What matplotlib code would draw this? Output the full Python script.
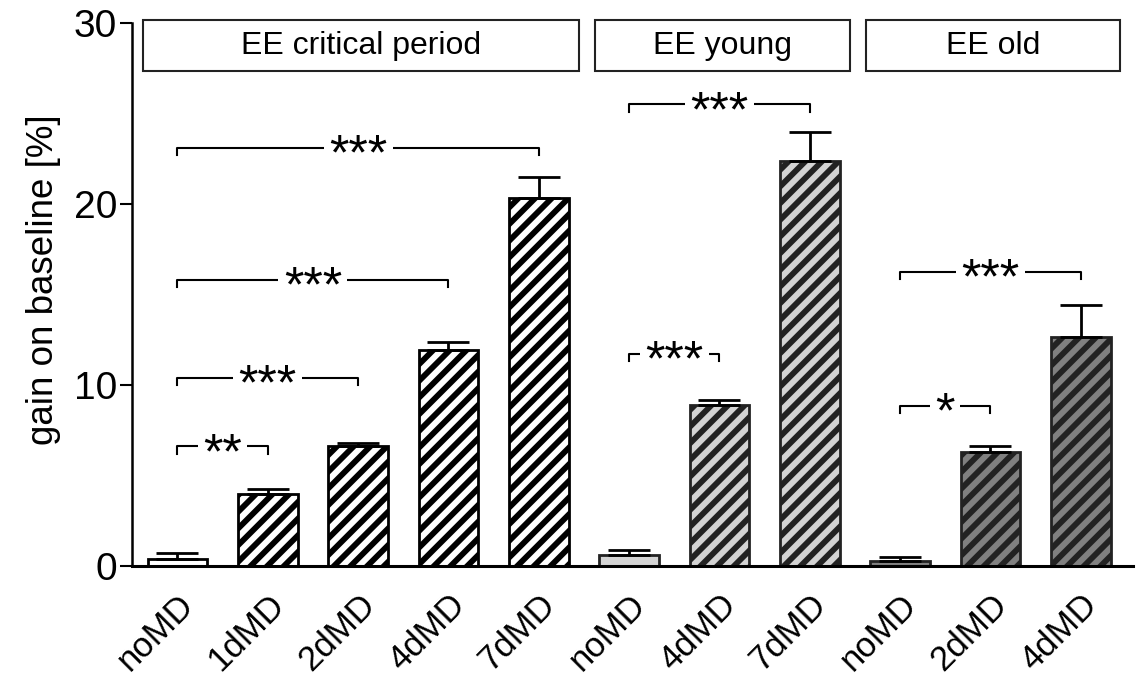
import matplotlib
matplotlib.use("Agg")
import matplotlib.pyplot as plt
from matplotlib.patches import Rectangle

plt.rcParams['font.family'] = ['Liberation Sans', 'DejaVu Sans']
plt.rcParams['hatch.linewidth'] = 4.2

labels = ["noMD", "1dMD", "2dMD", "4dMD", "7dMD", "noMD", "4dMD", "7dMD", "noMD", "2dMD", "4dMD"]
values = [0.4, 3.95, 6.6, 11.9, 20.3, 0.6, 8.9, 22.4, 0.28, 6.3, 12.65]
errors = [0.3, 0.3, 0.2, 0.45, 1.2, 0.25, 0.25, 1.6, 0.22, 0.3, 1.75]
colors = ["white"] * 5 + ["#d3d3d3"] * 3 + ["#808080"] * 3
hatches = [""] + ["//"] * 4 + [""] + ["//"] * 2 + [""] + ["//"] * 2
edge_colors = ["black"] * 5 + ["#222222"] * 6

groups = ["EE critical period", "EE young", "EE old"]
group_spans = [(0, 4), (5, 7), (8, 10)]

# significance brackets: (i, j, y, label)
sig = [(0, 1, 6.6, "**"), (0, 2, 10.4, "***"), (0, 3, 15.8, "***"), (0, 4, 23.1, "***"),
       (5, 6, 11.7, "***"), (5, 7, 25.5, "***"),
       (8, 9, 8.85, "*"), (8, 10, 16.25, "***")]

fig = plt.figure(figsize=(11.4, 6.76), dpi=100)
ax = fig.add_axes([0.116, 0.163, 0.878, 0.803])

x = list(range(len(values)))
for xi, v, e, c, h, ec in zip(x, values, errors, colors, hatches, edge_colors):
    ax.bar(xi, v, width=0.66, color=c, edgecolor=ec, hatch=h, linewidth=2, zorder=2)
    ax.errorbar(xi, v, yerr=[[0], [e]], fmt='none', ecolor='black', elinewidth=2,
                capsize=15, capthick=2, zorder=3)

ax.set_xlim(-0.5, 10.58)
ax.set_ylim(0, 30)
ax.set_yticks([0, 10, 20, 30])
ax.tick_params(axis='y', labelsize=28, length=9, width=1.5, direction='out', pad=2)
ax.set_xticks(x)
ax.set_xticklabels(labels, rotation=45, ha='right', rotation_mode='anchor', fontsize=25)
ax.tick_params(axis='x', length=0, pad=16)
ax.spines['top'].set_visible(False)
ax.spines['right'].set_visible(False)
ax.spines['left'].set_linewidth(1.8)
ax.spines['bottom'].set_linewidth(2.2)
ax.set_ylabel("gain on baseline [%]", fontsize=26.5)
ax.yaxis.set_label_coords(-0.071, 0.528)

# group header boxes
for g, (a, b) in zip(groups, group_spans):
    x0 = a - 0.38
    x1 = b + 0.45 if b < 10 else b + 0.43
    r = Rectangle((x0, 27.35), x1 - x0, 2.8, facecolor='white', edgecolor='#222222',
                  linewidth=1.5, clip_on=False, zorder=4)
    ax.add_patch(r)
    ax.text((x0 + x1) / 2, 28.75, g, ha='center', va='center', fontsize=23, zorder=5)

# brackets
tick = 0.4
for i, j, y, lab in sig:
    ax.plot([i, i, j, j], [y - tick, y, y, y - tick], color='black', linewidth=1.5, zorder=3)
    ax.text((i + j) / 2, y - 1.2, lab, ha='center', va='baseline', fontsize=36,
            zorder=5, bbox=dict(facecolor='white', edgecolor='none', pad=4))

fig.savefig("out.png", dpi=100)
